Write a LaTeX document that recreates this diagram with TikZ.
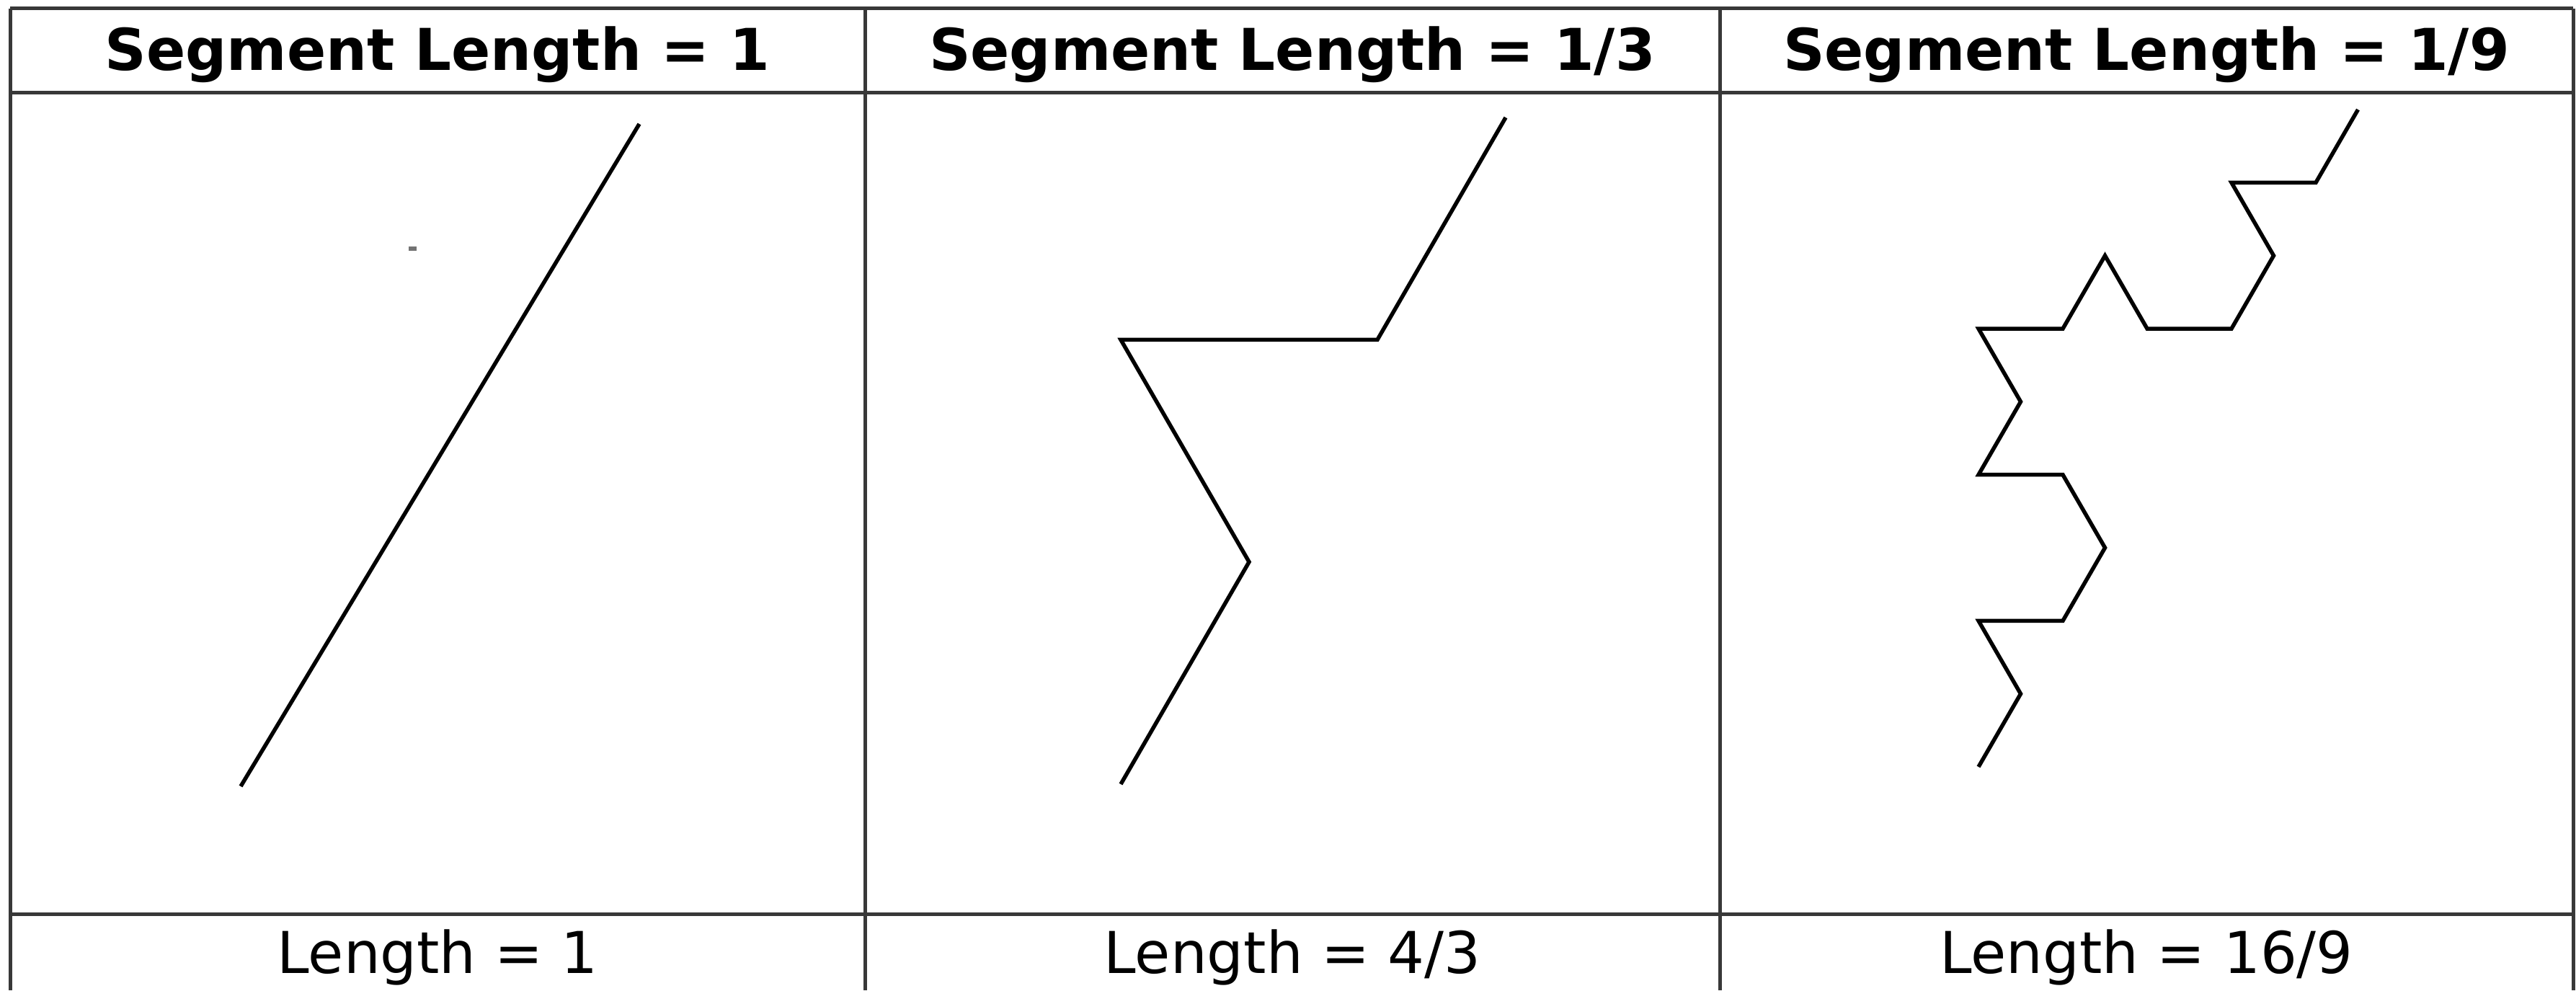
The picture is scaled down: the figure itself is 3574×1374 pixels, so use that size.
\documentclass[tikz,border=0pt]{standalone}
\usepackage{fontspec}
\setmainfont{DejaVu Sans}
\begin{document}
\begin{tikzpicture}[x=0.2pt,y=0.2pt,
  rule/.style={draw=black!78, line width=1pt},
  curve/.style={draw=black, line width=1.1pt, line join=miter},
  head/.style={font=\fontsize{16}{19}\selectfont\bfseries, anchor=base, inner sep=0pt},
  foot/.style={font=\fontsize{16}{19}\selectfont, anchor=base, inner sep=0pt}]
\useasboundingbox (0,0) rectangle (3574,1374);
\fill[white] (0,0) rectangle (3574,1374);
% table rules
\draw[rule] (14,1362) -- (3570,1362);
\draw[rule] (14,1245) -- (3570,1245);
\draw[rule] (14,106) -- (3570,106);
\draw[rule] (14,1362) -- (14,0);
\draw[rule] (1200,1362) -- (1200,0);
\draw[rule] (2386,1362) -- (2386,0);
\draw[rule] (3570,1362) -- (3570,0);
% headers
\node[head] (h1) at (607,1276) {Segment Length = 1};
\node[head] (h2) at (1793,1276) {Segment Length = 1/3};
\node[head] (h3) at (2978,1276) {Segment Length = 1/9};
% footers
\node[foot] (f1) at (607,24) {Length = 1};
\node[foot] (f2) at (1793,24) {Length = 4/3};
\node[foot] (f3) at (2978,24) {Length = 16/9};
% level 0
\draw[curve] (334,283) -- (887,1202);
\fill[black!55] (567,1026) rectangle (578,1032);
% level 1
\draw[curve] (1555,286) -- ++(60:356) -- ++(120:356) -- ++(0:356) -- ++(60:356);
% level 2
\def\L{117}
\draw[curve] (2745,310)
  -- ++(60:\L) -- ++(120:\L) -- ++(0:\L) -- ++(60:\L)
  -- ++(120:\L) -- ++(180:\L) -- ++(60:\L) -- ++(120:\L)
  -- ++(0:\L) -- ++(60:\L) -- ++(-60:\L) -- ++(0:\L)
  -- ++(60:\L) -- ++(120:\L) -- ++(0:\L) -- ++(60:\L);
\end{tikzpicture}
\end{document}
